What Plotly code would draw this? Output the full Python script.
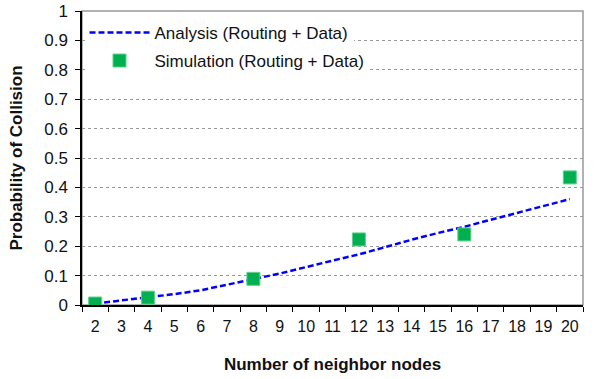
import plotly.graph_objects as go

categories = [str(n) for n in range(2, 21)]
analysis = [0.005, 0.015, 0.025, 0.037, 0.05, 0.068, 0.088, 0.107, 0.13, 0.151,
            0.172, 0.198, 0.222, 0.245, 0.266, 0.29, 0.313, 0.337, 0.36]
sim_x = ["2", "4", "8", "12", "16", "20"]
sim_y = [0.005, 0.025, 0.089, 0.223, 0.24, 0.434]
y_ticks = [0, 0.1, 0.2, 0.3, 0.4, 0.5, 0.6, 0.7, 0.8, 0.9, 1]
y_labels = ["0", "0.1", "0.2", "0.3", "0.4", "0.5", "0.6", "0.7", "0.8", "0.9", "1"]

font = "Liberation Sans, Arial, sans-serif"

fig = go.Figure()
fig.add_trace(go.Scatter(
    x=categories, y=analysis, mode="lines", name="Analysis (Routing + Data)",
    line=dict(color="#0000FF", width=2.5, dash="6px,3px"), legend="legend",
))
fig.add_trace(go.Scatter(
    x=sim_x, y=sim_y, mode="markers", name="Simulation (Routing + Data)",
    marker=dict(symbol="square", size=13, color="#00B050",
                line=dict(color="#5fd08a", width=1)), legend="legend2",
))

fig.update_layout(
    width=608, height=379,
    margin=dict(l=82, r=25, t=11, b=74),
    paper_bgcolor="white", plot_bgcolor="white",
    font=dict(family=font, size=17, color="#111111"),
    showlegend=True,
    legend=dict(x=0.005, y=0.925, xanchor="left", yanchor="middle",
                bgcolor="white", font=dict(size=17), itemwidth=60),
    legend2=dict(x=0.005, y=0.83, xanchor="left", yanchor="middle",
                 bgcolor="white", font=dict(size=17), itemwidth=60),
    xaxis=dict(
        type="category", categoryorder="array", categoryarray=categories,
        range=[-0.5, 18.5], tickson="boundaries", ticks="outside", ticklen=5,
        tickcolor="black", showline=True, linecolor="black", linewidth=1.5,
        showgrid=False, tickfont=dict(size=16), tickangle=0, automargin=False,
        ticklabelstandoff=6,
        title=dict(text="<b>Number of neighbor nodes</b>", font=dict(size=17), standoff=24),
    ),
    yaxis=dict(
        range=[0, 1], tickvals=y_ticks, ticktext=y_labels, ticks="outside",
        ticklen=5, tickcolor="black", showline=True, linecolor="black", linewidth=1.5,
        showgrid=True, gridcolor="#999999", griddash="dot", gridwidth=1,
        tickfont=dict(size=17), zeroline=False, automargin=False,
        ticklabelstandoff=4,
        title=dict(text="<b>Probability of Collision</b>", font=dict(size=17), standoff=17),
    ),
    shapes=[dict(type="rect", xref="paper", yref="paper", x0=0, x1=1, y0=0, y1=1,
                 line=dict(color="#999999", width=1.5), layer="below")],
)

fig.write_html("out.html", config={"displayModeBar": False},
               post_script="document.body.style.margin='0';document.body.style.overflow='hidden';")
